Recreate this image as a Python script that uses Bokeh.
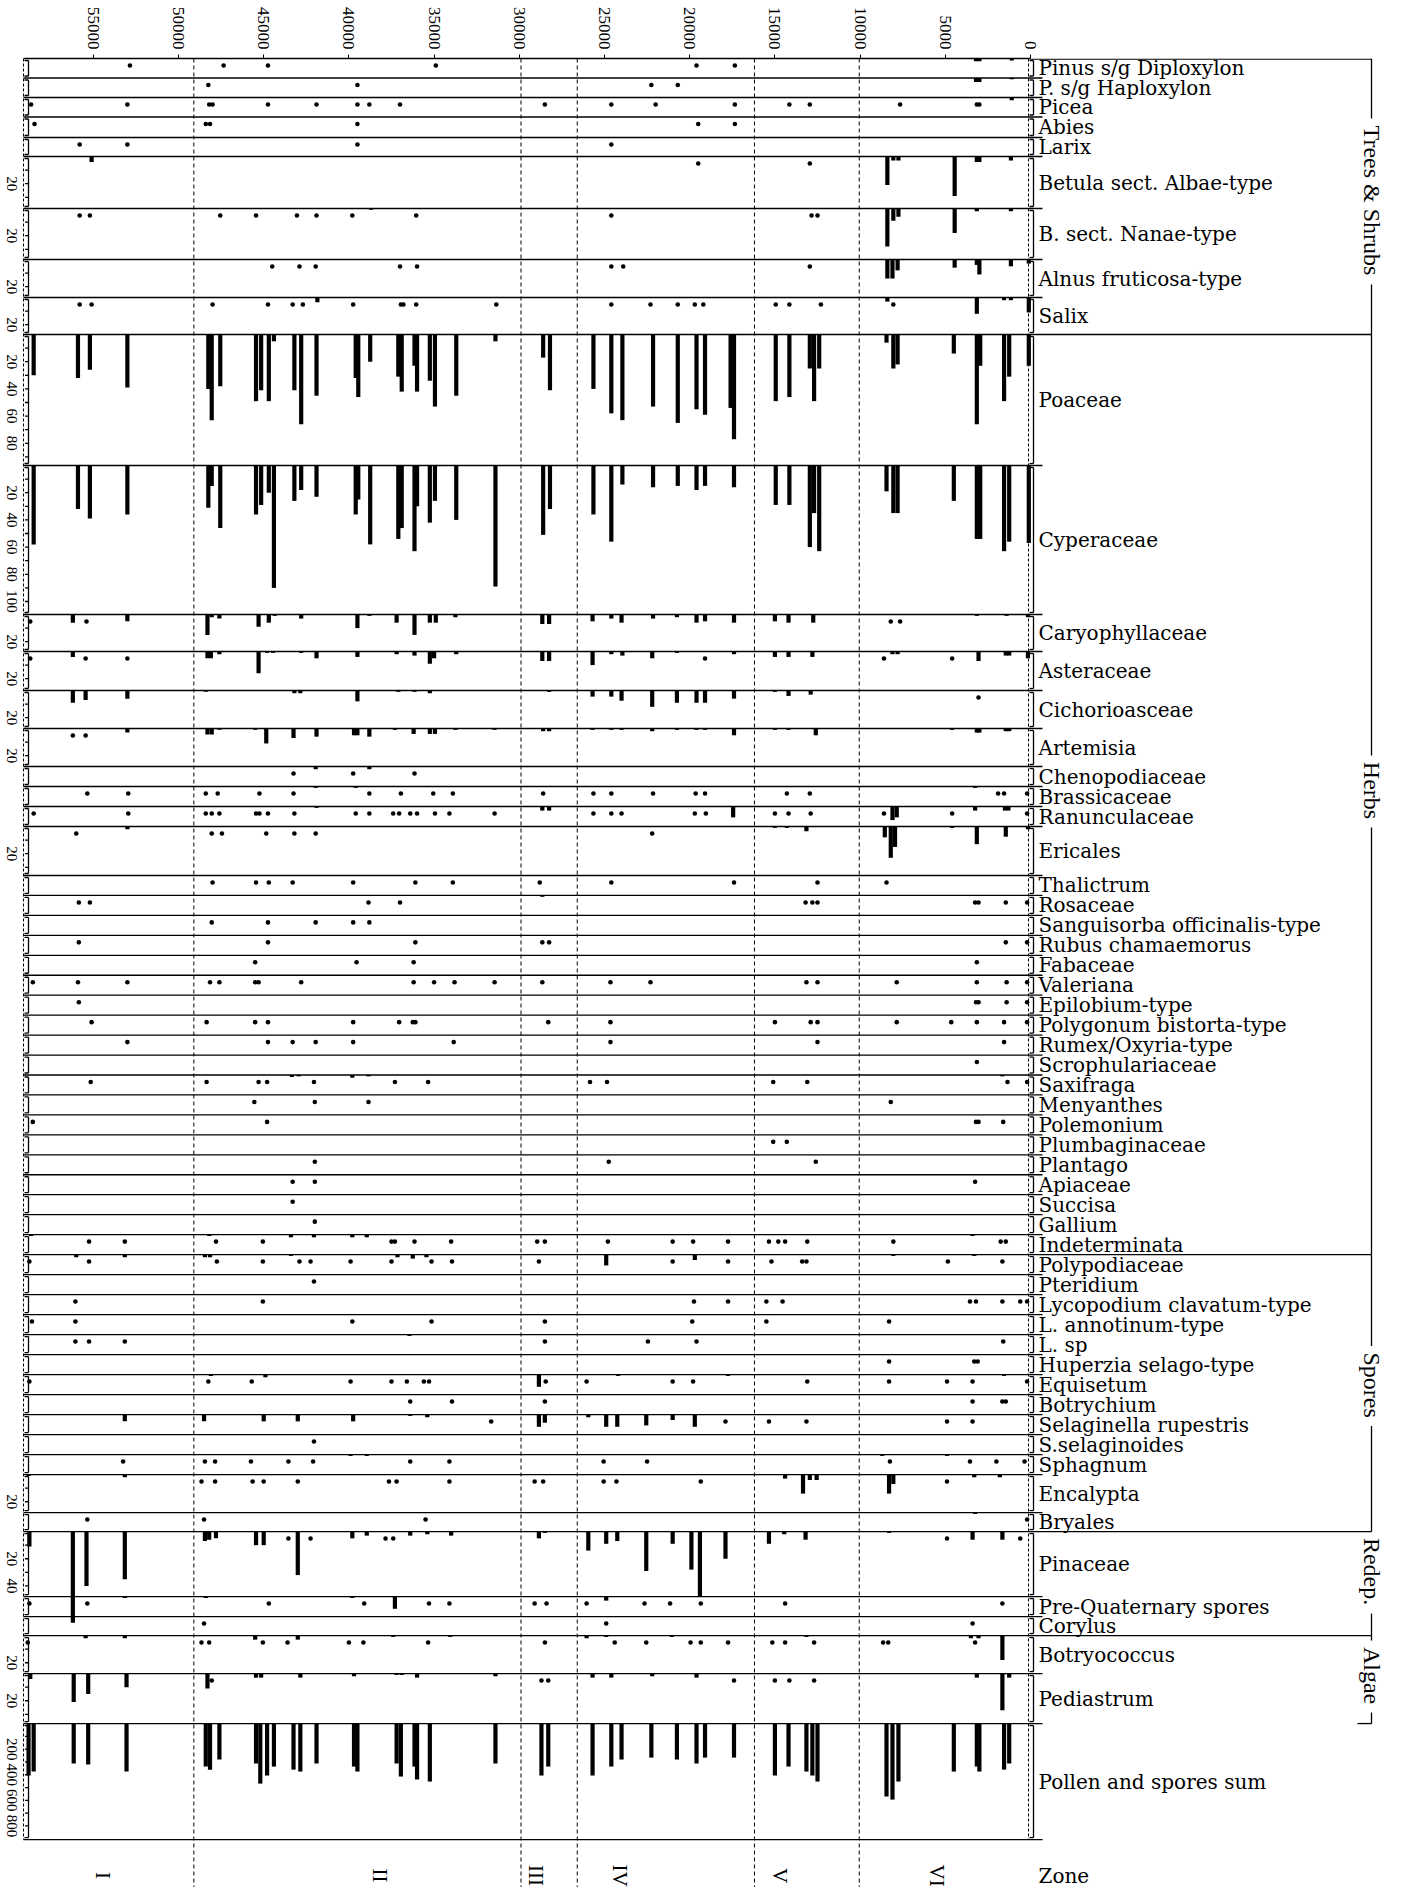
import math
from bokeh.plotting import figure
from bokeh.models import Range1d, FixedTicker, Label
from bokeh.core.properties import value
from bokeh.embed import file_html
from bokeh.resources import INLINE

# ------------------------------------------------------------------ data
AGE_TICKS = [0, 5000, 10000, 15000, 20000, 25000, 30000, 35000, 40000, 45000, 50000, 55000]
ZONE_LABELS = ["I", "II", "III", "IV", "V", "VI"]
ZONE_BOUNDARIES = [49100, 29900, 26600, 16200, 10050]

# (age 14C yr BP, percent); percent 0 = present (dot)
PINUS_DIPLOXYLON = [(52850,0),(47350,0),(44750,0),(34900,0),(19600,0),(17350,0),(3200,2),(3000,2),(1100,1.5)]
P_HAPLOXYLON = [(48250,0),(39500,0),(22250,0),(20700,0),(3200,3),(3000,3),(1100,1)]
PICEA = [(58650,0),(53000,0),(48200,0),(48000,0),(44750,0),(41900,0),(39500,0),(38800,0),(37000,0),(28500,0),
         (24600,0),(22000,0),(17350,0),(14150,0),(12950,0),(7650,0),(3150,0),(3000,0),(1100,2)]
ABIES = [(58450,0),(48400,0),(48150,0),(39500,0),(19500,0),(17350,0)]
LARIX = [(55800,0),(53000,0),(39500,0),(24600,0)]
BETULA_ALBAE = [(55100,4),(19500,0),(12950,0),(8400,21),(8050,3),(7750,3),(4450,29),(3150,4),(3000,4),(1150,3)]
BETULA_NANAE = [(55800,0),(55200,0),(47550,0),(45450,0),(43050,0),(41900,0),(39800,0),(38700,1),(36050,0),
                (24600,0),(12850,0),(12500,0),(8400,28),(8050,9),(7750,6),(4450,18),(3150,2),(1150,2)]
ALNUS_FRUTICOSA = [(44500,0),(42900,0),(41950,0),(37000,0),(36000,0),(24600,0),(23900,0),(12950,0),(8400,14),
                   (8100,14),(7800,8),(4450,6),(3150,4),(3000,11),(1150,5),(100,3)]
SALIX = [(55800,0),(55100,0),(48000,0),(44750,0),(43300,0),(42700,0),(41850,3.5),(39750,0),(36950,0),(36800,0),
         (36050,0),(31350,0),(24600,0),(22300,0),(20700,0),(19700,0),(19200,0),(14950,0),(14150,0),(12300,0),
         (8400,3),(8050,0),(3150,12),(1550,2),(1150,2),(100,11)]
POACEAE = [(58500,30),(55900,32),(55200,26),(53000,39),(48250,40),(48050,63),(47550,38),(45450,49),(45150,41),
           (44700,49),(44400,5),(43200,41),(42800,66),(41900,45),(39600,32),(39450,46),(38750,20),(37100,31),
           (36900,42),(36150,23),(36000,42),(35250,34),(34950,53),(33700,45),(31400,5),(28600,17),(28200,41),
           (25650,40),(24600,58),(23950,63),(22150,53),(20700,65),(19600,55),(19100,59),(17600,54),(17400,77),
           (14950,49),(14150,46),(12950,25),(12700,49),(12400,25),(8450,6),(8050,25),(7800,22),(4500,14),
           (3150,66),(2950,23),(1550,49),(1250,31),(100,23)]
CYPERACEAE = [(58500,58),(55900,32),(55200,39),(53000,36),(48250,31),(48050,15),(47550,46),(45450,36),(45150,29),
              (44700,20),(44400,90),(43200,26),(42800,18),(41900,23),(39600,36),(39450,25),(38750,58),(37100,54),
              (36900,46),(36150,63),(36000,30),(35250,42),(34950,26),(33700,40),(31400,89),(28600,51),(28200,32),
              (25650,36),(24600,56),(23950,14),(22150,16),(20700,15),(19600,18),(19100,15),(17400,16),(14950,29),
              (14150,29),(12950,60),(12700,35),(12400,63),(8450,19),(8050,35),(7800,35),(4500,26),(3150,54),
              (2950,54),(1550,63),(1250,56),(100,57)]
CARYOPHYLLACEAE = [(58700,0),(56200,6),(55400,0),(53000,5),(48300,15),(48050,2),(47600,3),(45300,9),(44700,6),
                   (44350,1),(42800,3),(39500,10),(38800,1),(37200,6),(36150,15),(35250,6),(34900,6),(33750,2),
                   (28650,7),(28250,7),(25700,5),(24600,3),(24000,6),(22150,3),(20750,2),(19600,6),(19100,5),
                   (17400,6),(15000,5),(14200,6),(12750,6),(8200,0),(7650,0),(3150,1),(1400,1),(150,2)]
ASTERACEAE = [(58700,0),(56200,4),(55450,0),(53000,0),(48300,5),(48100,5),(47600,2),(45300,16),(44800,1),
              (44450,1),(42800,1),(41900,5),(39500,4),(37200,2),(36150,3),(35250,9),(35000,5),(33700,2),
              (28650,7),(28250,7),(25700,10),(24600,2),(23950,3),(22200,5),(20750,1),(19100,0),(17400,2),
              (15000,4),(14200,4),(12800,4),(8600,0),(8100,2),(7800,2),(4600,0),(3050,7),(1450,3),(1250,3),(150,5)]
CICHORIOASCEAE = [(56200,9),(55450,7),(53000,6),(48400,1),(43200,2),(42850,2),(39500,8),(37100,1),(36150,1),
                  (35250,2),(28250,1),(25700,4.5),(24600,4.5),(24000,7.5),(22200,12),(20750,9),(19600,9),
                  (19100,9),(17400,6),(15000,1),(14200,4),(12900,3),(3050,0)]
ARTEMISIA = [(56200,0),(55450,0),(53000,3),(48300,4.5),(48050,4.5),(47600,1),(45500,1),(44850,11),(43250,7),
             (41900,6),(39700,5),(39500,5),(38800,6),(37300,1),(36200,4),(35250,4),(34950,4),(33750,1),(31450,1),
             (28600,2),(28250,2),(25700,1),(24600,1),(24000,1),(22200,2),(20750,1),(19600,1),(19100,1),(17400,5),
             (15000,1),(14200,1),(12600,5),(4600,1),(3150,3),(3000,3),(1450,2),(1250,2)]
CHENOPODIACEAE = [(43250,0),(41950,2),(39750,0),(38800,2),(36150,0)]
BRASSICACEAE = [(55350,0),(52950,0),(48400,0),(47700,0),(45250,0),(43250,0),(41950,1),(39600,1),(38800,0),
                (36950,0),(35050,0),(33900,0),(28600,0),(25650,0),(24600,0),(22150,0),(19650,0),(19100,0),
                (14300,0),(12950,0),(3250,1),(1900,0),(1550,0),(200,0)]
RANUNCULACEAE = [(58500,0),(52950,0),(48400,0),(48050,0),(47600,0),(45450,0),(45250,0),(44750,0),(43200,0),
                 (41900,1),(39600,0),(38800,0),(37400,0),(37050,0),(36400,0),(36000,0),(34950,0),(34100,0),
                 (31450,0),(28650,3),(28250,3),(25650,0),(24600,0),(24000,0),(19700,0),(19050,0),(17450,8),
                 (15000,0),(14200,0),(12900,0),(8600,0),(8100,10),(7850,8),(4600,0),(3250,3),(1500,3),(1300,3),(200,0)]
ERICALES = [(56000,0),(53000,2),(48050,0),(47450,0),(44850,0),(43200,0),(41950,0),(22200,0),(15000,1),(14300,1),
            (13150,3.5),(8550,8),(8200,23),(7950,15),(4600,1),(3150,13),(1450,7.5),(150,2)]
THALICTRUM = [(48000,0),(45450,0),(44700,0),(43300,0),(39750,0),(36100,0),(33900,0),(28800,0),(24600,0),
              (17400,0),(12500,0),(8450,0)]
ROSACEAE = [(55850,0),(55200,0),(38850,0),(37000,0),(28650,1),(13200,0),(12800,0),(12500,0),(3250,0),(3050,0),
            (1450,0),(200,0)]
SANGUISORBA = [(48050,0),(44750,0),(41950,0),(39750,0),(38800,0)]
RUBUS_CHAMAEMORUS = [(55850,0),(44750,0),(36100,0),(28650,0),(28250,0),(1450,0),(200,0)]
FABACEAE = [(45500,0),(39550,0),(36200,0),(3150,0)]
VALERIANA = [(58550,0),(55900,0),(53000,0),(48150,0),(47600,0),(45500,0),(45300,0),(42800,0),(36200,0),(35000,0),
             (33800,0),(31450,0),(28650,0),(24650,0),(22300,0),(13150,0),(12500,0),(7850,0),(3150,0),(1400,0),(200,0)]
EPILOBIUM = [(55850,0),(3200,0),(3050,0),(1400,0),(200,0)]
POLYGONUM_BISTORTA = [(55100,0),(48350,0),(45500,0),(44750,0),(39750,0),(37050,0),(36250,0),(36100,0),(28300,0),
                      (24650,0),(15000,0),(12900,0),(12500,0),(7850,0),(4650,0),(3150,0),(1550,0),(200,0)]
RUMEX_OXYRIA = [(53000,0),(44750,0),(43300,0),(41950,0),(39750,0),(33850,0),(24650,0),(12500,0),(1550,0)]
SCROPHULARIACEAE = [(3150,0)]
SAXIFRAGA = [(55150,0),(48350,0),(45300,0),(44800,0),(43350,1.5),(42950,1),(42050,0),(39800,2),(38850,1),(37300,0),
             (35350,0),(25850,0),(24850,0),(15100,0),(13100,0),(1650,1),(1350,0),(200,0)]
MENYANTHES = [(45550,0),(42000,0),(38850,0),(8200,0)]
POLEMONIUM = [(58550,0),(44800,0),(3200,0),(3050,0),(1600,0)]
PLUMBAGINACEAE = [(15100,0),(14300,0)]
PLANTAGO = [(42000,0),(24750,0),(12600,0)]
APIACEAE = [(43300,0),(42000,0),(3250,0)]
SUCCISA = [(43300,0)]
GALLIUM = [(42000,0)]
INDETERMINATA = [(58650,1),(55250,0),(53150,0),(48200,1),(47800,0),(45050,0),(43400,2),(42050,2),(39800,2),(38950,2),
                 (37500,0),(37300,0),(36150,0),(34000,0),(28950,0),(28500,0),(24800,0),(21000,0),(19800,0),(17750,0),
                 (15350,0),(14800,0),(14400,0),(13100,0),(8050,0),(3400,1),(1750,0),(1450,0)]
POLYPODIACEAE = [(58750,0),(56000,2),(55250,0),(53150,2),(48450,2),(48150,2),(47750,0),(45050,0),(43400,1),
                 (42900,0),(42250,0),(39900,0),(37500,0),(37150,2),(36250,3),(35450,2),(35150,0),(33950,0),
                 (28850,0),(24900,8),(21000,0),(19700,4),(17750,0),(15200,0),(13400,0),(13150,0),(8050,1),
                 (4850,0),(3300,1),(1650,0)]
PTERIDIUM = [(42050,0)]
LYCOPODIUM_CLAVATUM = [(56050,0),(45050,0),(19750,0),(17750,0),(15500,0),(14550,0),(3550,0),(3200,0),(1650,0),
                       (600,0),(200,0)]
L_ANNOTINUM = [(58600,0),(56050,0),(39800,0),(35150,0),(28500,0),(19850,0),(15500,0),(8300,0)]
L_SP = [(56050,0),(55250,0),(53150,0),(36450,1),(28500,0),(22450,0),(19600,0),(1600,0)]
HUPERZIA_SELAGO = [(8300,0),(3300,0),(3100,0)]
EQUISETUM = [(58750,0),(48250,0),(48100,1),(45700,0),(44900,2),(39900,0),(37500,0),(36600,0),(35600,0),(35300,0),
             (28850,9),(28450,0),(26050,0),(24200,1),(21000,0),(19800,0),(17750,1),(13100,0),(8300,0),(4900,0),
             (3400,0),(1550,1),(200,0)]
BOTRYCHIUM = [(36400,0),(33950,0),(28500,0),(3400,0),(1650,0),(1450,0)]
SELAGINELLA_RUPESTRIS = [(53150,5),(48500,5),(45000,5),(43000,5),(39750,5),(36400,1),(35400,2),(31650,0),(28850,9),
                         (28500,6),(25950,2),(24900,9),(24250,9),(22550,8),(21000,4),(19700,9),(17900,0),(15350,0),
                         (13150,0),(4900,0),(3400,0)]
S_SELAGINOIDES = [(42050,0)]
SPHAGNUM = [(53250,0),(48450,0),(47850,0),(45750,0),(43550,0),(42100,0),(39900,1),(38950,1),(36400,0),(34100,0),
            (25050,0),(22500,0),(8700,1),(8250,0),(4900,1),(3550,0),(2000,0),(350,0)]
ENCALYPTA = [(58800,1),(53150,2),(48650,0),(47850,0),(45650,0),(45000,0),(43000,0),(37650,0),(37200,0),(34100,0),
             (29100,0),(28600,0),(25050,0),(24300,0),(19350,0),(14400,3),(13350,14),(12950,4),(12550,4),(8300,14),
             (8050,7),(4900,0),(3300,2),(1800,2)]
BRYALES = [(55350,0),(48500,0),(35500,0),(3250,1),(200,0)]
PINACEAE = [(58750,11),(56200,67),(55400,40),(53150,35),(48450,7),(48200,6),(47800,5),(45450,10),(45000,10),
            (43550,0),(43000,32),(42250,0),(39800,5),(38950,3),(37850,0),(37400,0),(36400,3),(35400,2),(34000,3),
            (28850,5),(28500,1),(25950,14),(24900,9),(24250,7),(22550,29),(21000,9),(19900,28),(19400,48),
            (17900,20),(15350,9),(14450,2),(13200,6),(8300,1),(4900,0),(3400,6),(1650,6),(600,0)]
PRE_QUATERNARY_SPORES = [(58750,0),(55350,0),(53150,1),(48400,1),(44700,0),(39800,1),(39100,0),(37300,9),(35300,0),
                         (34100,0),(29100,0),(28400,0),(26050,0),(24900,3),(22650,0),(21150,0),(19350,0),(14400,0),
                         (1650,0)]
CORYLUS = [(48500,0),(24900,0),(3400,0)]
BOTRYOCOCCUS = [(58850,0),(55450,2),(53150,2),(48650,0),(48200,0),(45500,3),(45050,0),(43600,0),(43000,3),(40000,0),
                (39150,0),(37400,1),(35350,0),(34050,1),(28500,0),(26050,2),(24900,1),(24400,0),(22550,0),(21050,1),
                (19950,0),(19350,0),(17750,0),(15150,0),(14400,0),(13150,1),(12700,0),(8650,0),(8350,0),(3500,2),
                (3250,0),(3050,2),(1650,18)]
PEDIASTRUM = [(58700,4),(56150,21),(55300,15),(53050,10),(48300,11),(48050,0),(45450,3),(45150,3),(42850,3),
              (39700,2),(37200,1),(36900,1),(36000,3),(31400,2),(28700,0),(28300,0),(25700,3),(24600,3),(22200,2),
              (19600,3),(17400,0),(15000,0),(14150,0),(12700,0),(3150,3),(1650,27),(1250,3)]
POLLEN_SPORES_SUM = [(58800,406),(58500,375),(56150,312),(55300,320),(53050,375),(48400,336),(48150,360),
                     (47600,281),(45450,312),(45200,469),(44800,406),(44400,336),(43250,360),(42850,375),(41900,312),
                     (39700,336),(39500,375),(37200,312),(36950,414),(36150,336),(36000,437),(35250,453),(31400,312),
                     (28700,406),(28300,336),(25700,406),(24600,336),(24000,281),(22250,266),(20750,281),(19600,312),
                     (19100,266),(17400,266),(15000,406),(14200,336),(13150,375),(12800,406),(12500,453),(8450,570),
                     (8100,594),(7750,453),(4500,375),(3150,336),(3000,375),(1550,360),(1250,312)]

# ------------------------------------------------------------------ layout
SERIF = "Liberation Serif"
WIDE = "DejaVu Serif"
FIG_W, FIG_H = 1390, 1887
PAD = 8
Y_TOP = 66.0
Y_BOT = float(PAD + FIG_H)
X0 = 1038.0            # screen x of age 0
PX_PER_YR = 0.01704
K = 1.36               # px per percent
K_SUM = 0.128          # px per grain
BAR_W = 4.2 / PX_PER_YR
DOT_OFF = 7.0
X_L, X_R_LINE, X_BR = 31.0, 1050.0, 1379.0
X_LB, X_RB, X_RD, X_LAB = 36.0, 1041.0, 1036.0, 1046.0


def age_at(x):
    return (X0 - x) / PX_PER_YR


S = 19.95
ROWS = [
    ("Pinus s/g Diploxylon", PINUS_DIPLOXYLON, 19.5, [], K),
    ("P. s/g Haploxylon", P_HAPLOXYLON, 19.5, [], K),
    ("Picea", PICEA, 19.5, [], K),
    ("Abies", ABIES, 20.5, [], K),
    ("Larix", LARIX, 19.0, [], K),
    ("Betula sect. Albae-type", BETULA_ALBAE, 52, [20], K),
    ("B. sect. Nanae-type", BETULA_NANAE, 51, [20], K),
    ("Alnus fruticosa-type", ALNUS_FRUTICOSA, 38, [20], K),
    ("Salix", SALIX, 37, [20], K),
    ("Poaceae", POACEAE, 131, [20, 40, 60, 80], K),
    ("Cyperaceae", CYPERACEAE, 149, [20, 40, 60, 80, 100], K),
    ("Caryophyllaceae", CARYOPHYLLACEAE, 37, [20], K),
    ("Asteraceae", ASTERACEAE, 39, [20], K),
    ("Cichorioasceae", CICHORIOASCEAE, 38, [20], K),
    ("Artemisia", ARTEMISIA, 38, [20], K),
    ("Chenopodiaceae", CHENOPODIACEAE, 20, [], K),
    ("Brassicaceae", BRASSICACEAE, 20, [], K),
    ("Ranunculaceae", RANUNCULACEAE, 20, [], K),
    ("Ericales", ERICALES, 49, [20], K),
    ("Thalictrum", THALICTRUM, S, [], K),
    ("Rosaceae", ROSACEAE, S, [], K),
    ("Sanguisorba officinalis-type", SANGUISORBA, S, [], K),
    ("Rubus chamaemorus", RUBUS_CHAMAEMORUS, S, [], K),
    ("Fabaceae", FABACEAE, S, [], K),
    ("Valeriana", VALERIANA, S, [], K),
    ("Epilobium-type", EPILOBIUM, S, [], K),
    ("Polygonum bistorta-type", POLYGONUM_BISTORTA, S, [], K),
    ("Rumex/Oxyria-type", RUMEX_OXYRIA, S, [], K),
    ("Scrophulariaceae", SCROPHULARIACEAE, S, [], K),
    ("Saxifraga", SAXIFRAGA, S, [], K),
    ("Menyanthes", MENYANTHES, S, [], K),
    ("Polemonium", POLEMONIUM, S, [], K),
    ("Plumbaginaceae", PLUMBAGINACEAE, S, [], K),
    ("Plantago", PLANTAGO, S, [], K),
    ("Apiaceae", APIACEAE, S, [], K),
    ("Succisa", SUCCISA, S, [], K),
    ("Gallium", GALLIUM, S, [], K),
    ("Indeterminata", INDETERMINATA, S, [], K),
    ("Polypodiaceae", POLYPODIACEAE, 20, [], K),
    ("Pteridium", PTERIDIUM, 20, [], K),
    ("Lycopodium clavatum-type", LYCOPODIUM_CLAVATUM, 20, [], K),
    ("L. annotinum-type", L_ANNOTINUM, 20, [], K),
    ("L. sp", L_SP, 20, [], K),
    ("Huperzia selago-type", HUPERZIA_SELAGO, 20, [], K),
    ("Equisetum", EQUISETUM, 20, [], K),
    ("Botrychium", BOTRYCHIUM, 20, [], K),
    ("Selaginella rupestris", SELAGINELLA_RUPESTRIS, 20, [], K),
    ("S.selaginoides", S_SELAGINOIDES, 20, [], K),
    ("Sphagnum", SPHAGNUM, 20, [], K),
    ("Encalypta", ENCALYPTA, 38, [20], K),
    ("Bryales", BRYALES, 19, [], K),
    ("Pinaceae", PINACEAE, 65, [20, 40], K),
    ("Pre-Quaternary spores", PRE_QUATERNARY_SPORES, 20, [], K),
    ("Corylus", CORYLUS, 19, [], K),
    ("Botryococcus", BOTRYOCOCCUS, 38, [20], K),
    ("Pediastrum", PEDIASTRUM, 50, [20], K),
    ("Pollen and spores sum", POLLEN_SPORES_SUM, 116, [200, 400, 600, 800], K_SUM),
]
# (label, first row, last row, text length px, vertical shift px)
GROUPS = [("Trees & Shrubs", "Pinus s/g Diploxylon", "Salix", 152, 4),
          ("Herbs", "Poaceae", "Indeterminata", 58, -4),
          ("Spores", "Polypodiaceae", "Bryales", 66, -8),
          ("Redep.", "Pinaceae", "Corylus", 68, -12),
          ("Algae", "Botryococcus", "Pediastrum", 58, -4)]

p = figure(width=FIG_W, height=FIG_H,
           x_range=Range1d(age_at(PAD), age_at(PAD + FIG_W)),
           y_range=Range1d(Y_BOT, Y_TOP),
           output_backend="svg", toolbar_location=None,
           x_axis_location="above", y_axis_location=None,
           min_border=0, min_border_top=int(Y_TOP - PAD))
p.extra_x_ranges = {"px": Range1d(PAD, PAD + FIG_W)}
p.grid.visible = False
p.outline_line_color = None
p.background_fill_color = "white"
p.border_fill_color = "white"

ax = p.xaxis[0]
ax.ticker = FixedTicker(ticks=AGE_TICKS)
ax.bounds = (age_at(X_L), 0)
ax.major_label_orientation = -math.pi / 2
ax.major_label_text_font = SERIF
ax.major_label_text_font_size = "17px"
ax.major_label_text_color = "black"
ax.major_label_standoff = 5
ax.major_tick_in = 0
ax.major_tick_out = 4
ax.minor_tick_line_color = None
ax.axis_line_width = 1.5
ax.axis_line_color = "black"
ax.major_tick_line_color = "black"

tops = []
y = Y_TOP
for r in ROWS:
    tops.append(y)
    y += r[2]
Y_ZONE = y
name_idx = {r[0]: i for i, r in enumerate(ROWS)}
group_tops = {name_idx[g[1]] for g in GROUPS}

seg = {"x0": [], "y0": [], "x1": [], "y1": []}
def add_seg(x0, y0, x1, y1):
    seg["x0"].append(x0); seg["y0"].append(y0); seg["x1"].append(x1); seg["y1"].append(y1)

lab_x, lab_y, lab_t = [], [], []
sc_x, sc_y, sc_t = [], [], []

for i, (label, data, h, ticks, k) in enumerate(ROWS):
    T = tops[i]
    rn = "s%d" % i
    p.extra_y_ranges[rn] = Range1d(start=(Y_BOT - T) / k, end=(Y_TOP - T) / k)
    bars = [(a, v) for a, v in data if v > 0]
    dots = [a for a, v in data if v == 0]
    if bars:
        p.vbar(x=[a for a, _ in bars], width=BAR_W, top=0, bottom=[v for _, v in bars],
               y_range_name=rn, fill_color="black", line_color=None)
    if dots:
        p.scatter(x=dots, y=DOT_OFF / k, size=4.6, fill_color="black", line_color=None, y_range_name=rn)
    yl = T + 0.6 if i == 0 else T
    if i in group_tops:
        add_seg(X_L if i > 0 else X0, yl, X_BR, yl)
    else:
        add_seg(X_L, yl, X_R_LINE, yl)
    for xb in (X_LB, X_RB):
        add_seg(xb, T + 2, xb, T + h - 2)
        add_seg(xb, T + h - 2, xb - 4, T + h - 2)
        add_seg(xb, T + 2, xb - 4, T + 2)
    if ticks:
        step = ticks[0] / 2.0
        v = step
        while v * k < h - 3:
            add_seg(X_LB, T + v * k, X_LB - 3.5, T + v * k)
            v += step
        for tv in ticks:
            sc_x.append(19.0); sc_y.append(T + tv * k); sc_t.append(str(tv))
    lab_x.append(X_LAB); lab_y.append(T + h / 2.0); lab_t.append(label)

add_seg(X_L, Y_ZONE, X_R_LINE, Y_ZONE)
add_seg(X_BR - 14, tops[name_idx["Pollen and spores sum"]], X_BR, tops[name_idx["Pollen and spores sum"]])

grp_x, grp_y, grp_t = [], [], []
for gname, first, last, glen, shift in GROUPS:
    g0 = tops[name_idx[first]]
    g1 = tops[name_idx[last]] + ROWS[name_idx[last]][2]
    yc = (g0 + g1) / 2.0 + shift
    add_seg(X_BR, g0, X_BR, yc - glen / 2.0 - 6)
    add_seg(X_BR, yc + glen / 2.0 + 8, X_BR, g1)
    grp_x.append(X_BR); grp_y.append(yc); grp_t.append(gname)

p.segment(x0="x0", y0="y0", x1="x1", y1="y1", source=seg, x_range_name="px",
          line_color="black", line_width=1.3)

p.segment(x0=[X_L, X_RD], y0=[Y_TOP, Y_TOP], x1=[X_L, X_RD], y1=[Y_ZONE, Y_ZONE],
          x_range_name="px", line_color="black", line_width=1, line_dash="3 2")
p.segment(x0=ZONE_BOUNDARIES, y0=Y_TOP, x1=ZONE_BOUNDARIES, y1=Y_BOT,
          line_color="black", line_width=1, line_dash="4 3")

p.text(x=lab_x, y=lab_y, text=lab_t, x_range_name="px", text_font=value(WIDE),
       text_font_size="20px", text_baseline="middle", text_align="left", text_color="black")
p.text(x=sc_x, y=sc_y, text=sc_t, x_range_name="px", text_font=value(SERIF), angle=-math.pi / 2,
       text_font_size="15px", text_baseline="middle", text_align="center", text_color="black")
p.text(x=grp_x, y=grp_y, text=grp_t, x_range_name="px", text_font=value(SERIF), angle=-math.pi / 2,
       text_font_size="24px", text_baseline="middle", text_align="center", text_color="black")

ZONE_LABEL_X = [110, 387, 543, 627, 787, 944]
p.text(x=ZONE_LABEL_X, y=[Y_ZONE + 36] * 6, text=ZONE_LABELS, x_range_name="px", text_font=value(SERIF),
       angle=-math.pi / 2, text_font_size="21px", text_baseline="middle", text_align="center")
p.text(x=[X_LAB], y=[Y_ZONE + 36], text=["Zone"], x_range_name="px", text_font=value(WIDE),
       text_font_size="20px", text_baseline="middle", text_align="left")

p.add_layout(Label(x=age_at(1050), y=28, text="Age (14C yr BP)", text_font=WIDE,
                   text_font_size="21px", text_baseline="middle", text_color="black"))

open("out.html", "w").write(file_html(p, INLINE))
